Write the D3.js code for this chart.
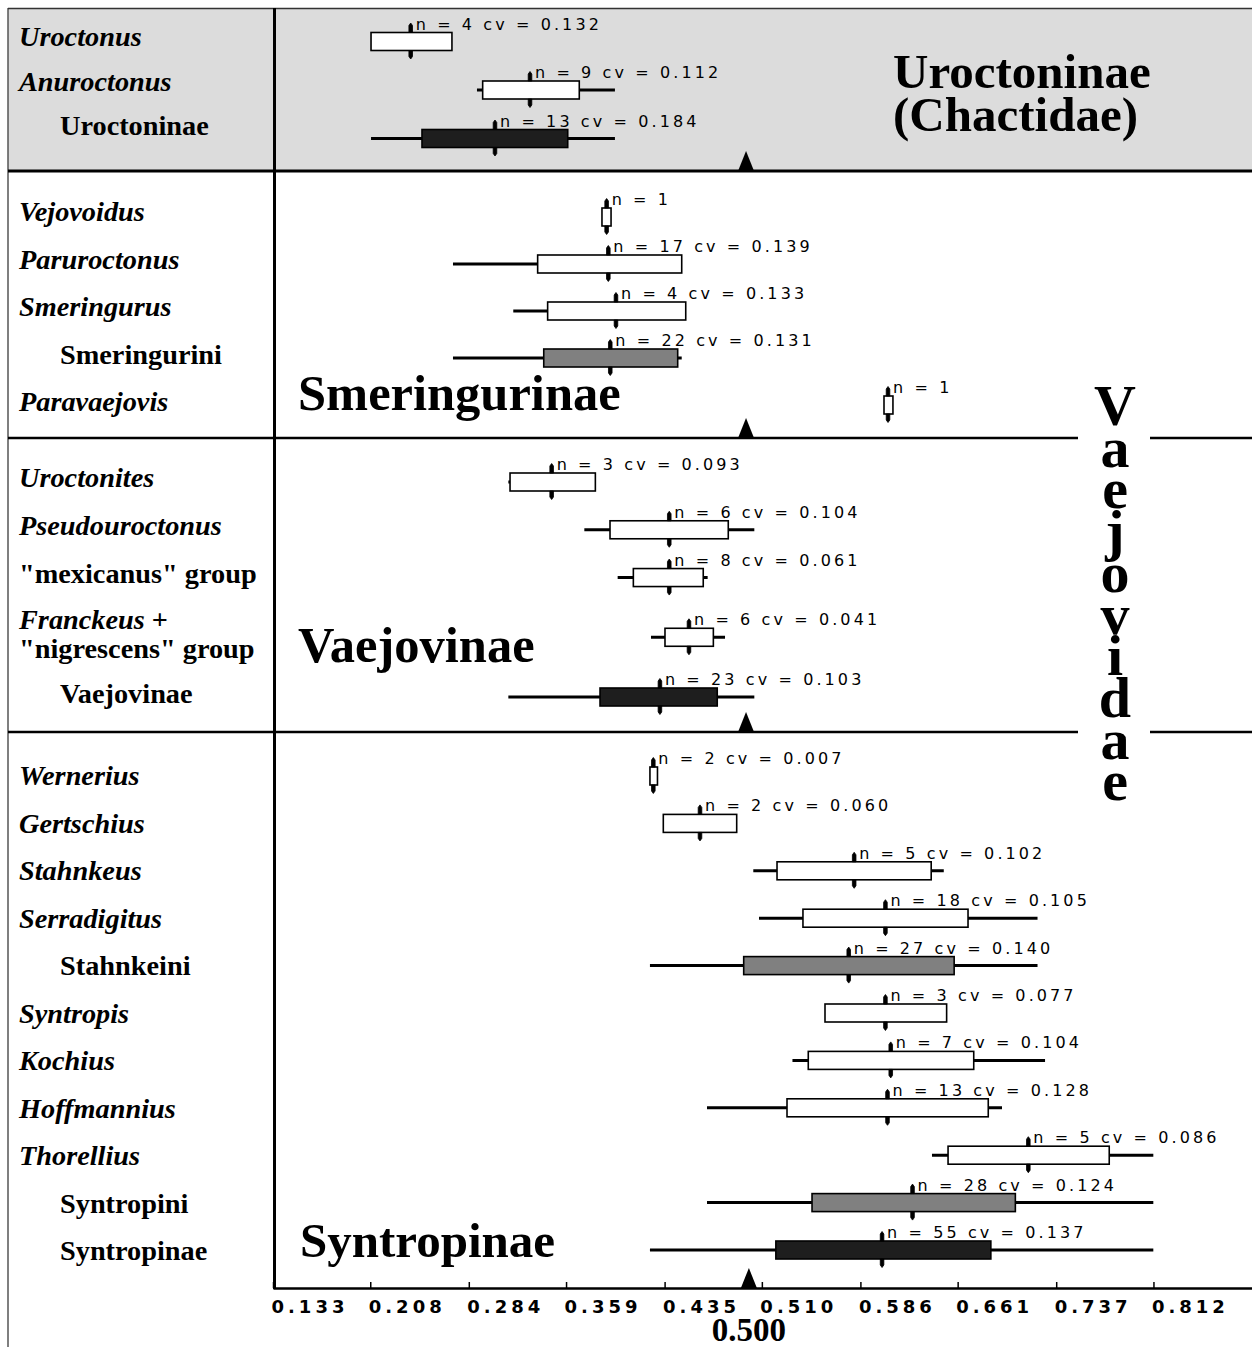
<!DOCTYPE html>
<html><head><meta charset="utf-8">
<script src="https://cdn.jsdelivr.net/npm/d3@7"></script>
<style>
body{margin:0;background:#fff;}
svg{display:block;}
</style></head><body>
<svg id="chart" width="1252" height="1347"></svg>
<script>
// ---------------- DATA ----------------
const rowNames = ["Uroctonus","Anuroctonus","Uroctoninae",
  "Vejovoidus","Paruroctonus","Smeringurus","Smeringurini","Paravaejovis",
  "Uroctonites","Pseudouroctonus","\"mexicanus\" group","Franckeus + \"nigrescens\" group","Vaejovinae",
  "Wernerius","Gertschius","Stahnkeus","Serradigitus","Stahnkeini","Syntropis","Kochius","Hoffmannius","Thorellius","Syntropini","Syntropinae"];
const rowSection = [0,0,0, 1,1,1,1,1, 2,2,2,2,2, 3,3,3,3,3,3,3,3,3,3,3];
const labelKind = ["genus","genus","taxon",
  "genus","genus","genus","taxon","genus",
  "genus","genus","group","mixed","taxon",
  "genus","genus","genus","genus","taxon","genus","genus","genus","genus","taxon","taxon"];
const rankLevel = ["genus","genus","subfamily",
  "genus","genus","genus","tribe","genus",
  "genus","genus","genus","genus","subfamily",
  "genus","genus","genus","genus","tribe","genus","genus","genus","genus","tribe","subfamily"];
const nValues  = [4,9,13, 1,17,4,22,1, 3,6,8,6,23, 2,2,5,18,27,3,7,13,5,28,55];
const cvValues = [0.132,0.112,0.184, null,0.139,0.133,0.131,null, 0.093,0.104,0.061,0.041,0.103,
  0.007,0.060,0.102,0.105,0.140,0.077,0.104,0.128,0.086,0.124,0.137];
const meanValues = [0.2392,0.3312,0.3042, 0.3903,0.3916,0.3975,0.3931,0.6073,
  0.3479,0.4386,0.4386,0.4538,0.4314,
  0.4263,0.4623,0.5812,0.6053,0.5770,0.6053,0.6094,0.6069,0.7155,0.6262,0.6027];
const boxLow = [0.2086,0.2947,0.2479, 0.3867,0.3371,0.3448,0.3418,0.6042,
  0.3158,0.3929,0.4109,0.4353,0.3852,
  0.4237,0.4340,0.5217,0.5417,0.4960,0.5587,0.5458,0.5294,0.6536,0.5487,0.5208];
const boxHigh = [0.2710,0.3692,0.3603, 0.3937,0.4482,0.4513,0.4451,0.6111,
  0.3816,0.4841,0.4648,0.4726,0.4756,
  0.4295,0.4906,0.6406,0.6690,0.6583,0.6525,0.6734,0.6846,0.7779,0.7055,0.6866];
const minValues = [0.2086,0.2903,0.2086, 0.3867,0.2718,0.3183,0.2718,0.6042,
  0.3145,0.3731,0.3988,0.4245,0.3145,
  0.4237,0.4340,0.5034,0.5078,0.4237,0.5587,0.5336,0.4677,0.6412,0.4677,0.4237];
const maxValues = [0.2710,0.3967,0.3967, 0.3937,0.4482,0.4513,0.4482,0.6111,
  0.3816,0.5042,0.4682,0.4816,0.5042,
  0.4295,0.4906,0.6503,0.7226,0.7226,0.6525,0.7284,0.6952,0.8119,0.8119,0.8119];
const sectionTitles = [["Uroctoninae","(Chactidae)"],["Smeringurinae"],["Vaejovinae"],["Syntropinae"]];
const sectionRef = [0.4978,0.4978,0.4978,0.500];
const familyLabel = "Vaejovidae";
const tickLabels = ["0.133","0.208","0.284","0.359","0.435","0.510","0.586","0.661","0.737","0.812"];
const refLabel = "0.500";

// ---------------- LAYOUT ----------------
const W = 1252, H = 1347;
const sectionBounds = [[8,171],[171,438],[438,732],[732,1288]];
const rowRange = [[41.5,138.5],[217,405],[482,697],[776,1250]];
const labelRange = [[46,135],[221,411],[487,703],[785,1260]];
const fills = {genus:"#ffffff", tribe:"#808080", subfamily:"#1e1e1e"};
const serif = "'Liberation Serif','Times New Roman',serif";

const svg = d3.select("#chart");
const x = d3.scaleLinear().domain([0.133, 0.888]).range([273, 1252]);

// row y positions: cumulative slots within each section (2-line labels take more room)
const rowY = new Array(rowNames.length), lblY = new Array(rowNames.length);
sectionBounds.forEach((b, s) => {
  const idx = d3.range(rowNames.length).filter(i => rowSection[i] === s);
  let acc = 0; const centers = [];
  idx.forEach(i => { const w = labelKind[i] === "mixed" ? 1.5 : 1; centers.push(acc + w/2); acc += w; });
  const ys = d3.scaleLinear().domain([centers[0], centers[centers.length-1]]).range(rowRange[s]);
  const ls = d3.scaleLinear().domain([centers[0], centers[centers.length-1]]).range(labelRange[s]);
  idx.forEach((i, k) => { rowY[i] = ys(centers[k]); lblY[i] = ls(centers[k]); });
});

// background
svg.append("rect").attr("width", W).attr("height", H).attr("fill", "#fff");
svg.append("rect").attr("x", 8).attr("y", 8).attr("width", W - 8).attr("height", 171 - 8).attr("fill", "#dcdcdc");

// rows
const rows = svg.append("g").selectAll("g").data(d3.range(rowNames.length)).join("g");
rows.append("line")
  .attr("x1", i => x(minValues[i])).attr("x2", i => x(maxValues[i]))
  .attr("y1", i => rowY[i]).attr("y2", i => rowY[i])
  .attr("stroke", "#000").attr("stroke-width", 3);
const bh = 18;
rows.append("rect")
  .attr("x", i => x(boxLow[i])).attr("width", i => x(boxHigh[i]) - x(boxLow[i]))
  .attr("y", i => rowY[i] - bh/2).attr("height", bh)
  .attr("fill", i => fills[rankLevel[i]]).attr("stroke", "#000").attr("stroke-width", 1.6);
rows.append("path")
  .attr("d", i => {
    const cx = x(meanValues[i]), t = rowY[i] - bh/2, b = rowY[i] + bh/2;
    return `M${cx-1.8},${t}V${t-7}L${cx},${t-9.5}L${cx+1.8},${t-7}V${t}Z` +
           `M${cx-1.8},${b}V${b+6}L${cx},${b+8.5}L${cx+1.8},${b+6}V${b}Z`;
  })
  .attr("fill", "#000").attr("stroke", "#000").attr("stroke-width", 0.8);
rows.append("text")
  .attr("x", i => x(meanValues[i]) + 5).attr("y", i => rowY[i] - bh/2 - 3)
  .attr("font-family", "'DejaVu Sans',sans-serif").attr("font-size", 16)
  .attr("letter-spacing", 3.1).attr("fill", "#000")
  .text(i => cvValues[i] === null ? `n = ${nValues[i]}` : `n = ${nValues[i]} cv = ${cvValues[i].toFixed(3)}`);

// section reference triangles
sectionBounds.forEach((b, s) => {
  const cx = x(sectionRef[s]);
  svg.append("path").attr("d", `M${cx-8},${b[1]}L${cx},${b[1]-20}L${cx+8},${b[1]}Z`).attr("fill", "#000");
});

// frame lines
svg.append("line").attr("x1", 8).attr("x2", 8).attr("y1", 8).attr("y2", H).attr("stroke", "#555").attr("stroke-width", 1.5);
svg.append("line").attr("x1", 8).attr("x2", W).attr("y1", 8.5).attr("y2", 8.5).attr("stroke", "#333").attr("stroke-width", 1.5);
svg.append("line").attr("x1", 8).attr("x2", W).attr("y1", 171).attr("y2", 171).attr("stroke", "#000").attr("stroke-width", 3);
[438, 732].forEach(yy => {
  svg.append("line").attr("x1", 8).attr("x2", 1078).attr("y1", yy).attr("y2", yy).attr("stroke", "#000").attr("stroke-width", 2.5);
  svg.append("line").attr("x1", 1150).attr("x2", W).attr("y1", yy).attr("y2", yy).attr("stroke", "#000").attr("stroke-width", 2.5);
});
svg.append("line").attr("x1", 274.5).attr("x2", 274.5).attr("y1", 8).attr("y2", 1289).attr("stroke", "#000").attr("stroke-width", 3);

// axis
const tickVals = tickLabels.map(Number);
const axis = d3.axisBottom(x).tickValues(tickVals).tickFormat((d, i) => tickLabels[i])
  .tickSizeInner(-6).tickSizeOuter(0).tickPadding(0);
const ag = svg.append("g").attr("transform", "translate(0,1288)").call(axis);
ag.select(".domain").attr("stroke", "#000").attr("stroke-width", 2.5);
ag.selectAll(".tick line").attr("stroke", "#000").attr("stroke-width", 1.5);
ag.selectAll(".tick text").attr("text-anchor", "start").attr("x", -2).attr("y", 25).attr("dy", 0)
  .attr("font-family", "'DejaVu Sans',sans-serif").attr("font-weight", "bold")
  .attr("font-size", 18).attr("letter-spacing", 4).attr("fill", "#000");
svg.append("text").attr("x", x(0.5)).attr("y", 1341).attr("text-anchor", "middle")
  .attr("font-family", serif).attr("font-weight", "bold").attr("font-size", 33).text(refLabel);

// left labels
const lab = svg.append("g").attr("font-family", serif).attr("font-weight", "bold").attr("font-size", 28.3).attr("fill", "#000");
rowNames.forEach((name, i) => {
  const k = labelKind[i];
  if (k === "mixed") {
    const t = lab.append("text").attr("x", 19).attr("y", lblY[i] - 14.5);
    t.append("tspan").attr("font-style", "italic").text("Franckeus");
    t.append("tspan").text(" +");
    lab.append("text").attr("x", 19).attr("y", lblY[i] + 14.5).text("\"nigrescens\" group");
  } else {
    lab.append("text").attr("x", k === "taxon" ? 60 : 19).attr("y", lblY[i])
      .attr("font-style", k === "genus" ? "italic" : "normal").text(name);
  }
});

// section titles
const titlePos = [[893, [88, 131], 49], [298, [410], 50.5], [298, [662], 50.5], [300, [1257], 49]];
sectionTitles.forEach((lines, s) => {
  lines.forEach((ln, j) => {
    svg.append("text").attr("x", titlePos[s][0]).attr("y", titlePos[s][1][j])
      .attr("font-family", serif).attr("font-weight", "bold").attr("font-size", titlePos[s][2]).text(ln);
  });
});

// family label (vertical stacked letters)
const fam = svg.append("text").attr("font-family", serif).attr("font-weight", "bold").attr("font-size", 58).attr("text-anchor", "middle");
familyLabel.split("").forEach((ch, j) => {
  fam.append("tspan").attr("x", 1115).attr("y", 425 + j * 41.7).text(ch);
});
</script>
</body></html>
